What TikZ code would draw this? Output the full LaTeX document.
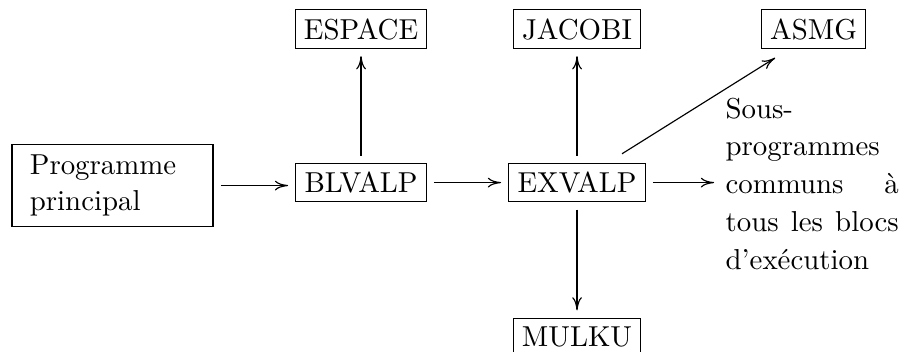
\documentclass[tikz,border=0pt]{standalone}
\usepackage{tikz}
\usetikzlibrary{arrows.meta}

\begin{document}
\begin{tikzpicture}[
        box/.style={draw, rectangle, inner sep=3pt},
        arrow/.style={-{Computer Modern Rightarrow[length=4.6pt,width=3.4pt]}, shorten <=2.5pt, shorten >=2.5pt}
    ]
        \useasboundingbox (0,0) rectangle (11.029,4.278);
        % Nodes
        \node[box, text width=57.3pt, inner xsep=6.2pt, inner ysep=3.4pt, align=left, font={\fontsize{10}{12.7}\selectfont}] (prog) at (1.371, 2.017) {Programme principal};
        \node[box] (blvalp) at (4.400, 2.053) {BLVALP};
        \node[box] (espace) at (4.400, 3.924) {ESPACE};
        \node[box] (exvalp) at (7.032, 2.053) {EXVALP};
        \node[box] (jacobi) at (7.032, 3.924) {JACOBI};
        \node[box] (asmg) at (9.914, 3.924) {ASMG};
        \node[box] (mulku) at (7.032, 0.171) {MULKU};
        \node[anchor=west, inner sep=0pt, text width=60pt, align=justify, font={\fontsize{10}{13.1}\selectfont}] (communs) at (8.836, 2.041) {Sous-programmes communs \`a tous les blocs d'ex\'ecution};
        
        % Arrows
        \draw[arrow] (prog.east) -- (prog.east -| blvalp.west);
        \draw[arrow] (blvalp.north) -- (espace.south);
        \draw[arrow] (blvalp.east) -- (blvalp.east -| exvalp.west);
        \draw[arrow] (exvalp.north) -- (jacobi.south);
        \draw[arrow] (exvalp.south) -- (mulku.north);
        \draw[arrow, shorten >=3.8pt] (exvalp.east) -- (exvalp.east -| communs.west);
        \draw[arrow, shorten <=0pt, shorten >=0pt] ([shift={(15.6pt,3.1pt)}]exvalp.north) -- ([shift={(-13.3pt,-3.1pt)}]asmg.south);
    \end{tikzpicture}
\end{document}
